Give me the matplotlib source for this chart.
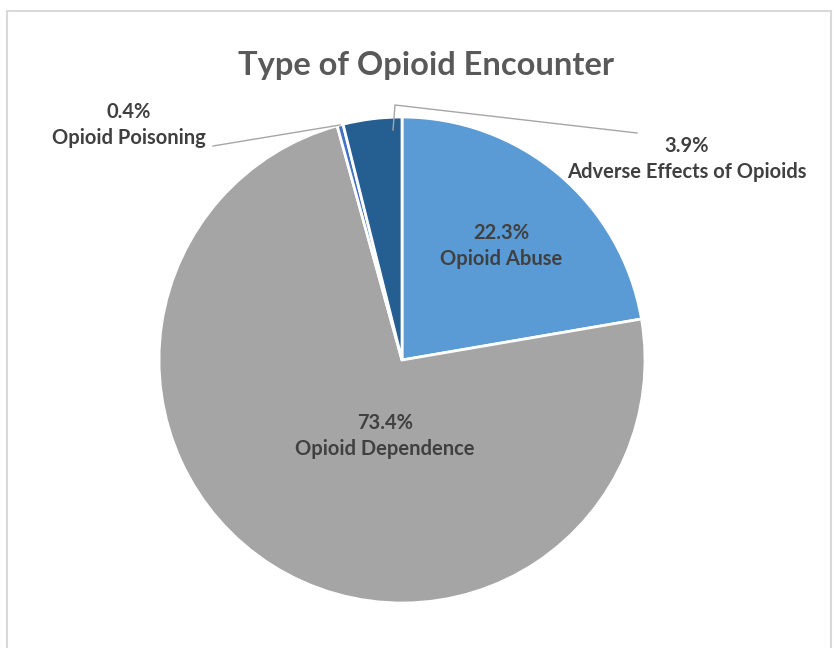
import matplotlib.pyplot as plt
from matplotlib.patches import Rectangle

W, H = 837, 648

categories = ['Opioid Abuse', 'Opioid Dependence', 'Opioid Poisoning', 'Adverse Effects of Opioids']
shares = [22.3, 73.4, 0.4, 3.9]
colors = ['#5B9BD5', '#A5A5A5', '#4472C4', '#255E91']

# label anchor positions in pixel space (x, y from top)
label_pos = [(501, 246), (385, 436), (129, 125), (687, 159)]

TEXT = '#404040'
plt.rcParams['font.family'] = ['Lato', 'DejaVu Sans']

fig = plt.figure(figsize=(W / 100, H / 100), dpi=100)
ax = fig.add_axes([0, 0, 1, 1])

# chart frame
ax.add_patch(Rectangle((7.5, -10), 824, H - 0.5, fill=False,
                       edgecolor='#D9D9D9', linewidth=1.5))

cx, cy, r = 402, H - 360, 243
ax.pie(shares, colors=colors, startangle=90, counterclock=False,
       center=(cx, cy), radius=r, frame=True,
       wedgeprops=dict(edgecolor='white', linewidth=2))
ax.set_xlim(0, W)
ax.set_ylim(0, H)
ax.set_aspect('equal')
ax.axis('off')

ax.text(426, H - 65, 'Type of Opioid Encounter', ha='center', va='center',
        fontsize=23.5, fontweight='bold', color='#595959')

for (x, y), name, v in zip(label_pos, categories, shares):
    ax.text(x, H - y, f'{v}%\n{name}', ha='center', va='center',
            fontsize=14.5, fontweight='bold', color=TEXT, linespacing=1.35)

# leader lines
ax.plot([213, 340], [H - 146, H - 125], color='#A6A6A6', lw=1)
ax.plot([393, 395, 637], [H - 130, H - 105, H - 133], color='#A6A6A6', lw=1)

fig.savefig('out.png', dpi=100)
